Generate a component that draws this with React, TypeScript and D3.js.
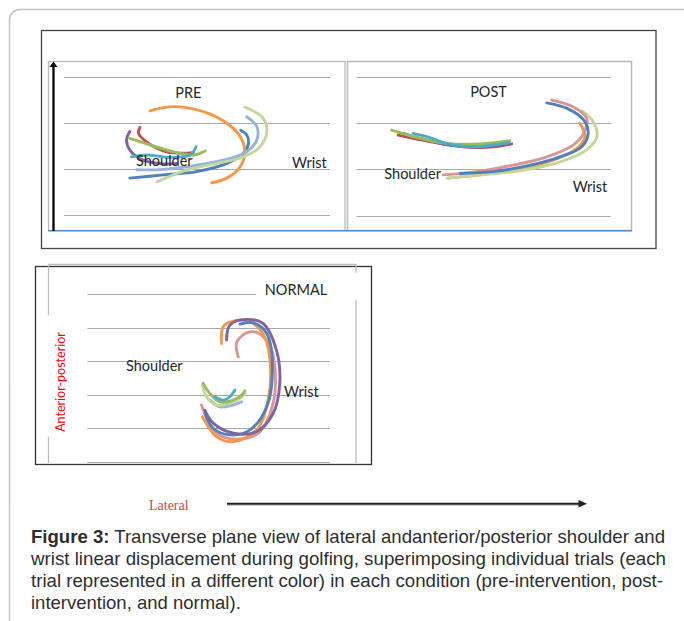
import React, { useRef, useEffect } from 'react';
import * as d3 from 'd3';

type Pt = [number, number];

// trial colours (Excel 2007 default palette)
const BLUE = '#4f81bd';
const RED = '#c0504d';
const GREEN = '#9bbb59';
const PURPLE = '#8064a2';
const TEAL = '#4bacc6';
const ORANGE = '#f79646';
const LIGHT_BLUE = '#95b3d7';
const PINK = '#d99694';
const LIGHT_GREEN = '#c3d69b';

// PRE: lateral (x) vs anterior-posterior (y), grid every 10 units
const preGrid = [10, 20, 30, 40];
const preWristOrange: Pt[] = [[18.7, 32.6], [23.8, 33.5], [30.3, 32.4], [35.4, 29.9], [38.3, 27.0], [39.3, 23.7], [38.3, 20.5], [35.4, 18.0], [32.1, 17.0]];
const preWristLightGreen: Pt[] = [[39.3, 33.4], [43.0, 31.3], [44.1, 28.4], [42.6, 24.8], [39.0, 22.6], [33.2, 21.2], [26.7, 19.8], [20.2, 17.2]];
const preWristLightBlue: Pt[] = [[39.7, 31.3], [41.9, 29.2], [41.9, 26.3], [39.7, 23.7], [36.1, 22.3], [28.8, 20.8], [21.6, 19.9], [15.8, 19.8]];
const preWristBlue: Pt[] = [[38.4, 28.4], [39.7, 27.4], [40.1, 25.6], [39.0, 23.4], [35.4, 21.2], [28.8, 19.4], [21.6, 18.7], [14.3, 18.0]];
const preShoulderPurple: Pt[] = [[14.3, 28.1], [13.6, 26.3], [14.3, 24.1], [17.2, 21.9], [21.6, 21.1], [24.5, 21.2]];
const preShoulderRed: Pt[] = [[16.5, 29.0], [16.2, 27.7], [18.3, 25.6], [22.3, 23.7], [26.7, 23.4], [28.1, 23.5]];
const preShoulderGreen: Pt[] = [[14.3, 26.6], [18.7, 25.2], [23.8, 23.7], [28.1, 23.0], [30.7, 23.9]];
const preShoulderTeal: Pt[] = [[14.7, 22.6], [18.0, 23.0], [23.0, 22.5], [27.4, 23.0], [28.7, 24.8]];

// POST
const postGrid = [10, 20, 30, 40];
const postWristOrange: Pt[] = [[48.5, 30.0], [49.6, 27.1], [47.8, 24.5], [42.7, 22.0], [34.0, 19.8], [26.8, 18.8], [19.9, 18.1]];
const postWristLightGreen: Pt[] = [[48.9, 32.7], [51.4, 30.3], [52.2, 27.1], [50.0, 24.2], [44.2, 21.6], [36.2, 19.8], [26.8, 18.8], [19.6, 18.1]];
const postWristPink: Pt[] = [[42.4, 35.0], [47.1, 33.5], [50.0, 31.0], [49.3, 27.8], [47.1, 25.3], [41.3, 22.7], [34.0, 20.9], [26.1, 19.5], [18.8, 18.8]];
const postWristBlue: Pt[] = [[41.3, 34.4], [45.7, 33.2], [49.3, 30.7], [50.3, 27.8], [48.9, 24.9], [44.2, 22.7], [37.7, 20.9], [29.7, 19.5], [22.5, 19.1]];
const postShoulderGreen: Pt[] = [[7.6, 28.5], [12.3, 27.1], [19.6, 25.6], [26.8, 25.5], [33.3, 26.2]];
const postShoulderPurple: Pt[] = [[10.1, 27.8], [13.8, 26.7], [19.6, 25.3], [26.8, 24.8], [33.0, 25.5]];
const postShoulderRed: Pt[] = [[9.0, 27.4], [15.9, 26.0], [23.2, 24.9], [29.0, 24.8], [33.7, 25.5]];
const postShoulderTeal: Pt[] = [[12.3, 27.8], [15.2, 27.1], [19.6, 25.6], [25.3, 24.9], [33.0, 25.8]];

// NORMAL
const normGrid = [0, 10, 20, 30, 40, 50];
const normWristPurple: Pt[] = [[41.6, 36.3], [42.6, 40.8], [47.6, 42.5], [52.5, 41.3], [56.5, 33.3], [57.5, 23.4], [55.5, 14.4], [50.6, 9.0], [43.6, 8.5], [37.6, 11.5], [35.1, 15.4]];
const normWristOrange: Pt[] = [[40.1, 35.3], [40.6, 40.3], [43.6, 42.0], [48.6, 41.8], [53.0, 37.3], [54.7, 28.4], [54.0, 18.4], [50.6, 9.5], [43.6, 6.0], [38.6, 7.5], [34.4, 13.4]];
const normWristBlue: Pt[] = [[45.6, 41.1], [49.6, 41.5], [53.6, 38.3], [55.3, 28.4], [53.6, 16.4], [48.6, 9.5], [42.6, 8.0], [37.6, 10.0], [35.1, 14.4]];
const normWristPink: Pt[] = [[45.1, 31.3], [44.6, 35.6], [47.6, 38.5], [50.6, 38.6], [54.5, 34.8], [56.0, 28.4], [55.5, 17.4], [51.6, 9.0], [45.1, 6.7], [38.6, 8.5], [34.1, 16.9]];
const normShoulderGreen: Pt[] = [[34.6, 23.4], [36.6, 20.4], [39.6, 17.9], [43.6, 18.4], [46.1, 19.9], [47.1, 21.2]];
const normShoulderLightGreen: Pt[] = [[34.4, 22.9], [35.6, 19.4], [38.6, 16.9], [42.6, 17.4], [45.6, 18.9], [47.1, 20.4]];
const normShoulderLightBlue: Pt[] = [[36.6, 18.4], [39.6, 16.4], [43.6, 16.9], [46.1, 17.9]];
const normShoulderTeal: Pt[] = [[38.1, 19.4], [40.6, 18.4], [42.6, 19.4], [44.1, 21.4]];

const captionLines = [
  'Transverse plane view of lateral andanterior/posterior shoulder and',
  'wrist linear displacement during golfing, superimposing individual trials (each',
  'trial represented in a different color) in each condition (pre-intervention, post-',
  'intervention, and normal).',
];

interface Trial { color: string; pts: Pt[] }
interface Panel {
  xDomain: [number, number];
  yDomain: [number, number];
  xRange: [number, number];
  yRange: [number, number];
  grid: number[];
  gridStop?: { value: number; end: number };
  trials: Trial[];
}

const panels: Panel[] = [
  {
    xDomain: [0, 57.8], yDomain: [10, 40], xRange: [64, 330], yRange: [215, 76.7], grid: preGrid,
    trials: [
      { color: BLUE, pts: preWristBlue },
      { color: RED, pts: preShoulderRed },
      { color: GREEN, pts: preShoulderGreen },
      { color: PURPLE, pts: preShoulderPurple },
      { color: TEAL, pts: preShoulderTeal },
      { color: ORANGE, pts: preWristOrange },
      { color: LIGHT_BLUE, pts: preWristLightBlue },
      { color: LIGHT_GREEN, pts: preWristLightGreen },
    ],
  },
  {
    xDomain: [0, 55.2], yDomain: [10, 40], xRange: [356.7, 610.7], yRange: [215.5, 77], grid: postGrid,
    trials: [
      { color: RED, pts: postShoulderRed },
      { color: PURPLE, pts: postShoulderPurple },
      { color: GREEN, pts: postShoulderGreen },
      { color: TEAL, pts: postShoulderTeal },
      { color: ORANGE, pts: postWristOrange },
      { color: LIGHT_GREEN, pts: postWristLightGreen },
      { color: PINK, pts: postWristPink },
      { color: BLUE, pts: postWristBlue },
    ],
  },
  {
    xDomain: [0, 72.5], yDomain: [0, 50], xRange: [87.3, 330], yRange: [461.7, 294.3], grid: normGrid,
    gridStop: { value: 50, end: 50.4 },
    trials: [
      { color: PINK, pts: normWristPink },
      { color: ORANGE, pts: normWristOrange },
      { color: BLUE, pts: normWristBlue },
      { color: PURPLE, pts: normWristPurple },
      { color: LIGHT_BLUE, pts: normShoulderLightBlue },
      { color: LIGHT_GREEN, pts: normShoulderLightGreen },
      { color: GREEN, pts: normShoulderGreen },
      { color: TEAL, pts: normShoulderTeal },
    ],
  },
];

const LABEL_FONT = 'Lato, "Open Sans", sans-serif';

export default function App() {
  const svgRef = useRef<SVGSVGElement>(null);

  useEffect(() => {
    if (!svgRef.current) return;
    const svg = d3.select(svgRef.current);
    svg.selectAll('*').remove();

    // page card
    svg.append('rect')
      .attr('x', 9.5).attr('y', 9.5).attr('width', 690).attr('height', 660).attr('rx', 10)
      .attr('fill', 'none').attr('stroke', '#c2c2c2').attr('stroke-width', 1.5);

    // top frame (PRE + POST)
    svg.append('rect')
      .attr('x', 41.5).attr('y', 30.5).attr('width', 614.5).attr('height', 218)
      .attr('fill', 'none').attr('stroke', '#444').attr('stroke-width', 1.3);
    svg.append('rect')
      .attr('x', 48.5).attr('y', 61.5).attr('width', 296.5).attr('height', 169)
      .attr('fill', 'none').attr('stroke', '#b8b8b8').attr('stroke-width', 1.3);
    svg.append('rect')
      .attr('x', 347.5).attr('y', 61.5).attr('width', 284).attr('height', 169)
      .attr('fill', 'none').attr('stroke', '#b8b8b8').attr('stroke-width', 1.5);
    svg.append('line')
      .attr('x1', 48).attr('x2', 632).attr('y1', 230.7).attr('y2', 230.7)
      .attr('stroke', '#5b8bc6').attr('stroke-width', 1.4);

    // NORMAL frame
    svg.append('rect')
      .attr('x', 35.5).attr('y', 266.5).attr('width', 336).attr('height', 198)
      .attr('fill', 'none').attr('stroke', '#333').attr('stroke-width', 1.3);
    const light = svg.append('g').attr('stroke', '#bdbdbd').attr('stroke-width', 1.3);
    light.append('line').attr('x1', 48).attr('x2', 356.5).attr('y1', 264.5).attr('y2', 264.5);
    light.append('line').attr('x1', 48.5).attr('x2', 48.5).attr('y1', 264).attr('y2', 315);
    light.append('line').attr('x1', 48.5).attr('x2', 48.5).attr('y1', 437).attr('y2', 463);
    light.append('line').attr('x1', 356).attr('x2', 356).attr('y1', 264).attr('y2', 273);
    light.append('line').attr('x1', 356).attr('x2', 356).attr('y1', 300).attr('y2', 463);

    panels.forEach(p => {
      const x = d3.scaleLinear().domain(p.xDomain).range(p.xRange);
      const y = d3.scaleLinear().domain(p.yDomain).range(p.yRange);
      const g = svg.append('g');

      g.selectAll('line.grid')
        .data(p.grid)
        .join('line')
        .attr('class', 'grid')
        .attr('x1', x(p.xDomain[0]))
        .attr('x2', d => (p.gridStop && p.gridStop.value === d ? x(p.gridStop.end) : x(p.xDomain[1])))
        .attr('y1', d => Math.round(y(d)) + 0.5)
        .attr('y2', d => Math.round(y(d)) + 0.5)
        .attr('stroke', '#a8a8a8')
        .attr('stroke-width', 1.2);

      const line = d3.line<Pt>()
        .x(d => x(d[0]))
        .y(d => y(d[1]))
        .curve(d3.curveCatmullRom.alpha(0.5));

      g.selectAll('path.trial')
        .data(p.trials)
        .join('path')
        .attr('class', 'trial')
        .attr('d', d => line(d.pts))
        .attr('fill', 'none')
        .attr('stroke', d => d.color)
        .attr('stroke-width', 2.9)
        .attr('stroke-linecap', 'round')
        .attr('stroke-linejoin', 'round');
    });

    // vertical axis arrow (PRE)
    svg.append('line')
      .attr('x1', 53.5).attr('x2', 53.5).attr('y1', 231).attr('y2', 66)
      .attr('stroke', '#000').attr('stroke-width', 2.3);
    svg.append('path')
      .attr('d', 'M49.5,67 L53.5,61.5 L57.5,67 Z')
      .attr('fill', '#000');

    // panel labels
    const labels = [
      { t: 'PRE', x: 188.3, y: 98.3, a: 'middle' },
      { t: 'Shoulder', x: 136, y: 165.7, a: 'start' },
      { t: 'Wrist', x: 292, y: 168.3, a: 'start' },
      { t: 'POST', x: 488.5, y: 97.3, a: 'middle' },
      { t: 'Shoulder', x: 384.3, y: 179, a: 'start' },
      { t: 'Wrist', x: 572.7, y: 191.7, a: 'start' },
      { t: 'NORMAL', x: 296, y: 295, a: 'middle' },
      { t: 'Shoulder', x: 126, y: 370.7, a: 'start' },
      { t: 'Wrist', x: 284, y: 396.7, a: 'start' },
    ];
    svg.append('g')
      .selectAll('text')
      .data(labels)
      .join('text')
      .attr('x', d => d.x)
      .attr('y', d => d.y)
      .attr('text-anchor', d => d.a)
      .attr('font-family', LABEL_FONT)
      .attr('font-size', 14.5)
      .attr('fill', '#262626')
      .text(d => d.t);

    svg.append('text')
      .attr('transform', 'translate(64.5,382) rotate(-90)')
      .attr('text-anchor', 'middle')
      .attr('font-family', LABEL_FONT)
      .attr('font-size', 12.5)
      .attr('fill', '#ff0000')
      .text('Anterior-posterior');

    // lateral arrow
    svg.append('text')
      .attr('x', 149).attr('y', 510)
      .attr('font-family', '"Liberation Serif", "Times New Roman", serif')
      .attr('font-size', 14)
      .attr('fill', '#c94a4a')
      .text('Lateral');
    svg.append('line')
      .attr('x1', 227).attr('x2', 581).attr('y1', 505.5).attr('y2', 505.5)
      .attr('stroke', '#c8c8c8').attr('stroke-width', 1.2);
    svg.append('line')
      .attr('x1', 227).attr('x2', 581).attr('y1', 503.8).attr('y2', 503.8)
      .attr('stroke', '#222').attr('stroke-width', 2);
    svg.append('path')
      .attr('d', 'M578.5,500 L587,503.8 L578.5,507.6 Z')
      .attr('fill', '#222');

    // caption
    const widths = [634, 635, 632, null];
    const cap = svg.append('g')
      .attr('font-family', '"Liberation Sans", Arial, sans-serif')
      .attr('font-size', 18.5)
      .attr('fill', '#2e2e2e');
    captionLines.forEach((l, i) => {
      const t = cap.append('text').attr('x', 31).attr('y', 543.3 + i * 22);
      if (widths[i]) t.attr('textLength', widths[i]).attr('lengthAdjust', 'spacingAndGlyphs');
      if (i === 0) {
        t.append('tspan').attr('font-weight', 'bold').text('Figure 3:');
        t.append('tspan').text(' ' + l);
      } else {
        t.text(l);
      }
    });
  }, []);

  return (
    <svg
      ref={svgRef}
      width={684}
      height={621}
      style={{ position: 'absolute', left: 0, top: 0, background: '#fff' }}
    />
  );
}
